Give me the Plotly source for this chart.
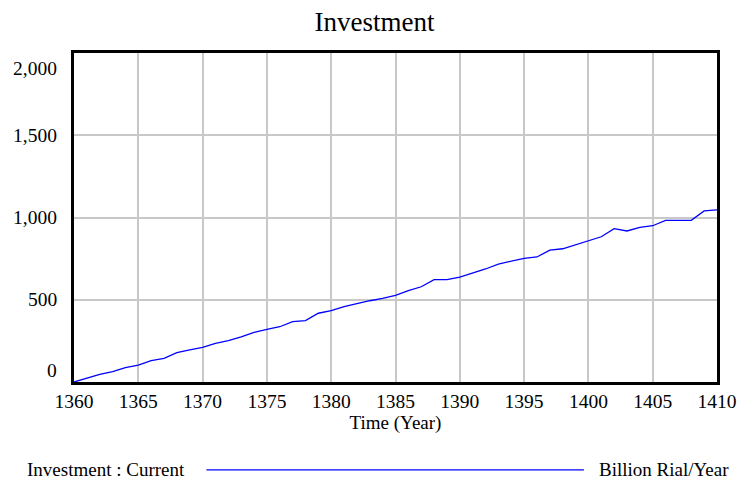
import plotly.graph_objects as go

years = list(range(1360, 1411))
investment = [0, 24, 47, 63, 87, 103, 130, 144, 178, 195, 211, 235, 251, 275, 302,
              320, 336, 367, 373, 418, 434, 458, 478, 494, 509, 527, 555, 579, 622, 622,
              638, 661, 687, 717, 736, 752, 760, 802, 810, 835, 861, 883, 932, 918, 940,
              950, 983, 983, 983, 1040, 1046]
x_ticks = list(range(1360, 1411, 5))
y_ticks = [0, 500, 1000, 1500, 2000]
y_tick_labels = ["0", "500", "1,000", "1,500", "2,000"]

FONT = "Liberation Serif, Times New Roman, serif"

fig = go.Figure()
fig.add_trace(go.Scatter(x=years, y=investment, mode="lines",
                         line=dict(color="#0000ff", width=1.3), showlegend=False,
                         hoverinfo="x+y"))

fig.update_layout(
    width=749, height=482,
    margin=dict(l=74, r=25, t=53, b=100),
    paper_bgcolor="white", plot_bgcolor="white",
    font=dict(family=FONT, color="black", size=19.5),
    title=dict(text="Investment", x=0.5, xanchor="center", y=0.955, yanchor="middle",
               font=dict(family=FONT, size=27, color="black")),
    xaxis=dict(range=[1360, 1410], tickvals=x_ticks, ticktext=[str(v) for v in x_ticks],
               showgrid=True, gridcolor="#c8c8c8", gridwidth=1.5,
               showline=True, linecolor="black", linewidth=3, mirror=True,
               ticks="", zeroline=False, tickfont=dict(size=19.5),
               title=dict(text="Time (Year)", font=dict(size=19), standoff=2)),
    yaxis=dict(range=[0, 2000], tickvals=y_ticks, showticklabels=False,
               showgrid=True, gridcolor="#c8c8c8", gridwidth=1.5,
               showline=True, linecolor="black", linewidth=3, mirror=True,
               ticks="", zeroline=False),
)

shifts = {0: 12, 2000: -15}
for v, t in zip(y_ticks, y_tick_labels):
    fig.add_annotation(x=0, xref="paper", y=v, yref="y", text=t, showarrow=False,
                       xanchor="right", yanchor="middle", xshift=-15,
                       yshift=shifts.get(v, 0), font=dict(size=19.5))

# legend row
fig.add_annotation(x=-0.076, xref="paper", y=-0.267, yref="paper",
                   text="Investment : Current", showarrow=False,
                   xanchor="left", yanchor="middle", font=dict(size=19))
fig.add_annotation(x=1.022, xref="paper", y=-0.267, yref="paper",
                   text="Billion Rial/Year", showarrow=False,
                   xanchor="right", yanchor="middle", font=dict(size=19))
fig.add_shape(type="line", xref="paper", yref="paper",
              x0=0.206, x1=0.793, y0=-0.267, y1=-0.267,
              line=dict(color="#0000ff", width=1.3))

fig.write_html("out.html", config={"displayModeBar": False},
               post_script="document.body.style.margin='0';document.body.style.overflow='hidden';")
